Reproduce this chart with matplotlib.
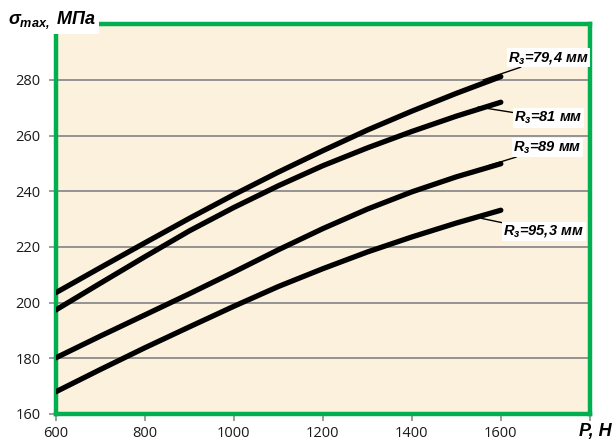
import matplotlib
matplotlib.use('Agg')
import matplotlib.pyplot as plt

# нагрузка P, Н
P = [600, 700, 800, 900, 1000, 1100, 1200, 1300, 1400, 1500, 1600]

# sigma_max, МПа для разных радиусов
s_794 = [203.6, 212.6, 221.5, 230.3, 238.8, 246.9, 254.6, 262.0, 268.8, 275.2, 281.2]
s_81 = [197.4, 207.0, 216.5, 225.8, 234.2, 242.0, 249.2, 255.6, 261.5, 267.0, 272.0]
s_89 = [180.2, 188.0, 195.6, 203.2, 211.0, 219.0, 226.6, 233.6, 239.8, 245.2, 249.9]
s_953 = [168.0, 176.0, 183.8, 191.3, 198.7, 205.8, 212.2, 218.2, 223.6, 228.6, 233.2]

labels = ['=79,4 мм', '=81 мм', '=89 мм', '=95,3 мм']
curves = [s_794, s_81, s_89, s_953]

xticks = [600, 800, 1000, 1200, 1400, 1600]
yticks = [160, 180, 200, 220, 240, 260, 280]

plt.rcParams['mathtext.fontset'] = 'custom'
plt.rcParams['mathtext.it'] = 'Liberation Sans:bold:italic'
plt.rcParams['mathtext.rm'] = 'Liberation Sans:bold:italic'
plt.rcParams['mathtext.bf'] = 'Liberation Sans:bold:italic'

fig = plt.figure(figsize=(6.15, 4.45), dpi=100)
ax = fig.add_axes([0.091, 0.0697, 0.868, 0.8757])
ax.set_facecolor('#FCF1DC')

for y in curves:
    ax.plot(P, y, color='black', lw=3.8, solid_capstyle='round',
            solid_joinstyle='round', zorder=3)

ax.set_xlim(600, 1800)
ax.set_ylim(160, 300)
ax.set_xticks(xticks + [1800])
ax.set_xticklabels([str(t) for t in xticks] + [''])
ax.set_yticks(yticks + [300])
ax.set_yticklabels([str(t) for t in yticks] + [''])
ax.yaxis.grid(True, color='#8c8c8c', lw=1.3)
ax.set_axisbelow(True)
ax.tick_params(axis='both', color='#8c8c8c', length=5, width=1.2,
               labelsize=10.5, labelcolor='#1a1a1a')
ax.tick_params(axis='x', pad=4)
ax.tick_params(axis='y', pad=6)
for lab in ax.get_xticklabels() + ax.get_yticklabels():
    lab.set_family('Open Sans')

for s in ax.spines.values():
    s.set_color('#00B050')
    s.set_linewidth(3.2)

# подписи кривых с выносками: (точка на кривой, левый край текста)
anno = [(1560, 280.0, 1617, 288.0),
        (1549, 270.3, 1630, 266.3),
        (1574, 249.3, 1628, 255.8),
        (1556, 230.3, 1606, 225.6)]
for (px, py, tx, ty), lab in zip(anno, labels):
    ax.annotate(r'$R_з$' + lab, xy=(px, py), xytext=(tx, ty),
                fontsize=10.5, fontweight='bold', fontstyle='italic',
                family='Liberation Sans', ha='left', va='center',
                bbox=dict(boxstyle='square,pad=0.1', fc='white', ec='none'),
                arrowprops=dict(arrowstyle='-', color='black', lw=1.0,
                                shrinkA=0, shrinkB=0),
                zorder=5)

fig.text(0.013, 0.955, r'$\sigma_{max,}$ МПа', fontsize=13, fontweight='bold',
         fontstyle='italic', family='Liberation Sans', ha='left', va='center',
         bbox=dict(boxstyle='square,pad=0.15', fc='white', ec='none'))
fig.text(0.995, 0.03, 'P, Н', fontsize=13, fontweight='bold',
         fontstyle='italic', family='Liberation Sans', ha='right', va='center')

fig.savefig('out.png', dpi=100)
